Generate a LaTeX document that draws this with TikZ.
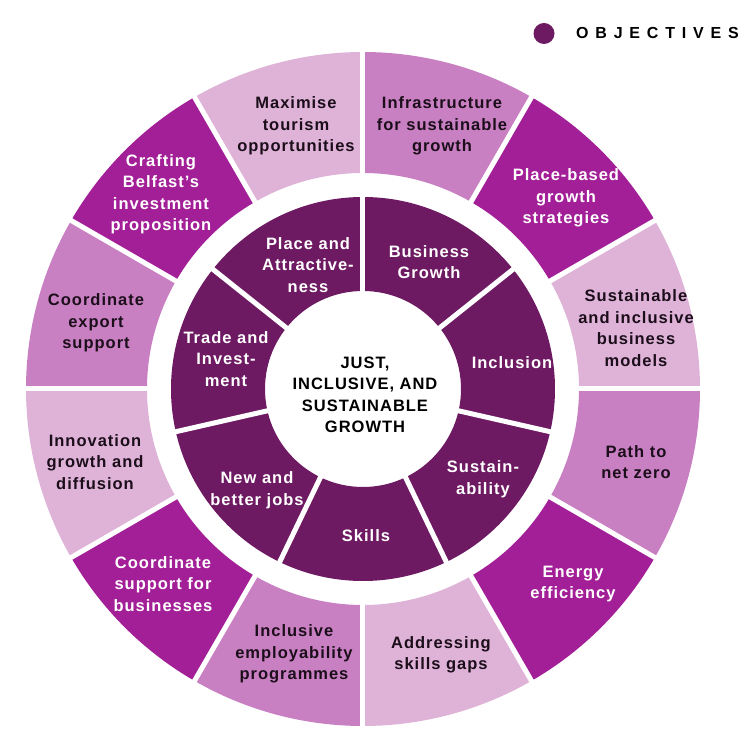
\documentclass[tikz,border=0pt]{standalone}
\usepackage{fontspec}
\setmainfont{Liberation Sans}[LetterSpace=6]
\newfontfamily\legendfont{Liberation Sans}
\definecolor{cdark}{HTML}{6E1A62}
\definecolor{cmag}{HTML}{A31F97}
\definecolor{cmed}{HTML}{C980C2}
\definecolor{clight}{HTML}{DFB3D8}
\definecolor{ctext}{HTML}{1B0E1A}
\tikzset{
  lbl/.style={align=center, font=\fontsize{16.5}{21.5}\selectfont\bfseries, inner sep=0pt, yshift=-2pt},
  lbldark/.style={lbl, text=ctext},
  lblwhite/.style={lbl, text=white},
  lblcenter/.style={lbl, text=black},
  gapline/.style={white, line width=5pt},
}
\newcommand{\mysector}[5]{%
  \fill[#1] (#2:#5) arc[start angle=#2, end angle=#3, radius=#5] -- (#3:#4) arc[start angle=#3, end angle=#2, radius=#4] -- cycle;}
\begin{document}
\begin{tikzpicture}[x=1pt,y=1pt]
\useasboundingbox[fill=white] (-363,-346) rectangle (392,389);
% outer ring
\foreach \c [count=\i from 0] in {cmed,cmag,clight,cmed,cmag,clight,cmed,cmag,clight,cmed,cmag,clight}{
  \pgfmathsetmacro{\aa}{90-30*\i}
  \pgfmathsetmacro{\ab}{60-30*\i}
  \mysector{\c}{\aa}{\ab}{216}{337}
}
\foreach \a in {0,30,...,330}{\draw[gapline] (\a:213) -- (\a:340);}
% inner ring
\mysector{cdark}{0}{360}{98}{192}
\foreach \i in {0,...,6}{
  \pgfmathsetmacro{\aa}{90-360/7*\i}
  \draw[gapline] (\aa:95) -- (\aa:195);
}
% outer labels
\node[lbldark]  (tour)  at (-67,265)  {Maximise\\tourism\\opportunities};
\node[lbldark]  (infra) at (79,265)   {Infrastructure\\for sustainable\\growth};
\node[lblwhite] (place) at (203,193)  {Place-based\\growth\\strategies};
\node[lblwhite] (craft) at (-202,197) {Crafting\\Belfast’s\\investment\\proposition};
\node[lbldark]  (export) at (-267,68) {Coordinate\\export\\support};
\node[lbldark]  (sust)  at (273,63)   {Sustainable\\and inclusive\\business\\models};
\node[lbldark]  (innov) at (-268,-71) {Innovation\\growth and\\diffusion};
\node[lbldark]  (path)  at (273,-71)  {Path to\\net zero};
\node[lblwhite] (coord) at (-200,-193) {Coordinate\\support for\\businesses};
\node[lblwhite] (energy) at (210,-193) {Energy\\efficiency};
\node[lbldark]  (employ) at (-69,-263) {Inclusive\\employability\\programmes};
\node[lbldark]  (skillsgap) at (78,-264) {Addressing\\skills gaps};
% inner labels
\node[lblwhite] (attr)  at (-55,126)  {Place and\\Attractive-\\ness};
\node[lblwhite] (bus)   at (66,129)   {Business\\Growth};
\node[lblwhite] (trade) at (-137,32)  {Trade and\\Invest-\\ment};
\node[lblwhite] (incl)  at (149,28)   {Inclusion};
\node[lblwhite] (jobs)  at (-106,-99) {New and\\better jobs};
\node[lblwhite] (sustain) at (120,-88) {Sustain-\\ability};
\node[lblwhite] (skills) at (3,-145)  {Skills};
% centre
\node[lblcenter] (centre) at (2,-4) {JUST,\\INCLUSIVE, AND\\SUSTAINABLE\\GROWTH};
% legend
\fill[cdark] (181,355.5) circle[radius=10.5];
\node[anchor=base west, inner sep=0pt, font=\legendfont\fontsize{16}{18}\selectfont\bfseries, text=black] (legend) at (213,350.7)
  {O\kern6.8pt B\kern6.8pt J\kern6.8pt E\kern6.8pt C\kern6.8pt T\kern6.8pt I\kern6.8pt V\kern6.8pt E\kern6.8pt S};
\end{tikzpicture}
\end{document}
